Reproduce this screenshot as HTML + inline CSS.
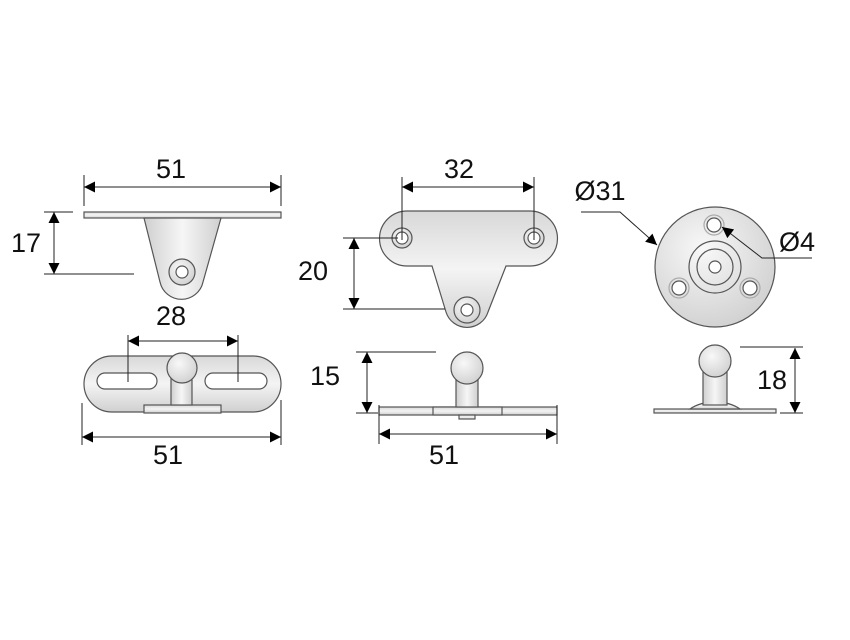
<!DOCTYPE html>
<html><head><meta charset="utf-8"><style>
html,body{margin:0;padding:0;background:#fff;}
svg{display:block;}
text{font-family:"Liberation Sans",Arial,sans-serif;font-size:27px;fill:#111;text-anchor:middle;}
</style></head><body>
<svg width="850" height="640" viewBox="0 0 850 640" xmlns="http://www.w3.org/2000/svg">
<defs>
<linearGradient id="g" x1="0" y1="0" x2="0" y2="1"><stop offset="0" stop-color="#d8d8d8"/><stop offset="0.5" stop-color="#f4f4f4"/><stop offset="1" stop-color="#d0d0d0"/></linearGradient>
<linearGradient id="gh" x1="0" y1="0" x2="1" y2="0"><stop offset="0" stop-color="#cfcfcf"/><stop offset="0.5" stop-color="#f6f6f6"/><stop offset="1" stop-color="#cfcfcf"/></linearGradient>
<radialGradient id="gr" cx="0.4" cy="0.35" r="0.7"><stop offset="0" stop-color="#f8f8f8"/><stop offset="1" stop-color="#d0d0d0"/></radialGradient>
<marker id="a" viewBox="0 0 10 10" refX="10" refY="5" markerWidth="22" markerHeight="11" markerUnits="userSpaceOnUse" orient="auto-start-reverse"><path d="M0,0L10,5L0,10z" fill="#000"/></marker>
</defs>
<g stroke="#555" stroke-width="1.2" fill="url(#g)">
<rect x="84" y="212" width="197" height="6"/>
<path d="M144,218 L221,218 L203,282 A22,22 0 0 1 160,282 Z" fill="url(#gh)"/>
<circle cx="182" cy="272" r="13" fill="url(#gr)"/><circle cx="182" cy="272" r="6" fill="#fff"/>
<rect x="84" y="356" width="197" height="56" rx="28" fill="url(#g)"/>
<rect x="97" y="373" width="60" height="16" rx="8" fill="#fff"/>
<rect x="205" y="373" width="62" height="16" rx="8" fill="#fff"/>
<rect x="144" y="405" width="77" height="8" fill="url(#g)"/>
<rect x="171" y="375" width="21" height="30" fill="url(#gh)"/>
<circle cx="182" cy="368" r="15" fill="url(#gr)"/>
<path d="M407,211 L530,211 A27,27 0 0 1 530,266 L506,266 L488,312 A22,22 0 0 1 446,312 L432,266 L407,266 A27,27 0 0 1 407,211 Z" fill="url(#g)"/>
<circle cx="402" cy="238" r="10" fill="url(#gr)"/><circle cx="402" cy="238" r="6" fill="#fff"/>
<circle cx="534" cy="238" r="10" fill="url(#gr)"/><circle cx="534" cy="238" r="6" fill="#fff"/>
<circle cx="467" cy="310" r="13" fill="url(#gr)"/><circle cx="467" cy="310" r="6" fill="#fff"/>
<rect x="379" y="407" width="178" height="8"/>
<rect x="433" y="407" width="69" height="8"/>
<rect x="459" y="415" width="16" height="4"/>
<rect x="456" y="377" width="22" height="30" fill="url(#gh)"/>
<circle cx="467" cy="368" r="16" fill="url(#gr)"/>
<circle cx="715" cy="267" r="60" fill="url(#gr)"/>
<circle cx="715" cy="267" r="26" fill="none"/><circle cx="715" cy="267" r="18" fill="none"/><circle cx="715" cy="267" r="6" fill="#fff"/>
<circle cx="714" cy="225" r="10" fill="none" stroke="#aaa"/><circle cx="714" cy="225" r="7" fill="#fff"/>
<circle cx="679" cy="288" r="10" fill="none" stroke="#aaa"/><circle cx="679" cy="288" r="7" fill="#fff"/>
<circle cx="750" cy="288" r="10" fill="none" stroke="#aaa"/><circle cx="750" cy="288" r="7" fill="#fff"/>
<rect x="654" y="409" width="122" height="4"/>
<path d="M690,409 Q700,402 715,402 Q730,402 740,409 Z"/>
<rect x="703" y="372" width="24" height="33" fill="url(#gh)"/>
<circle cx="715" cy="361" r="16" fill="url(#gr)"/>
</g>
<g stroke="#222" stroke-width="1" fill="none">
<line x1="84" y1="175" x2="84" y2="206"/><line x1="281" y1="175" x2="281" y2="206"/>
<line x1="84" y1="187" x2="281" y2="187" marker-start="url(#a)" marker-end="url(#a)"/>
<line x1="44" y1="212" x2="73" y2="212"/><line x1="44" y1="274" x2="134" y2="274"/>
<line x1="54" y1="212" x2="54" y2="274" marker-start="url(#a)" marker-end="url(#a)"/>
<line x1="128" y1="335" x2="128" y2="382"/><line x1="238" y1="335" x2="238" y2="382"/>
<line x1="128" y1="341" x2="238" y2="341" marker-start="url(#a)" marker-end="url(#a)"/>
<line x1="82" y1="403" x2="82" y2="445"/><line x1="281" y1="400" x2="281" y2="445"/>
<line x1="82" y1="437" x2="281" y2="437" marker-start="url(#a)" marker-end="url(#a)"/>
<line x1="402" y1="177" x2="402" y2="240"/><line x1="534" y1="177" x2="534" y2="240"/>
<line x1="402" y1="187" x2="534" y2="187" marker-start="url(#a)" marker-end="url(#a)"/>
<line x1="343" y1="238" x2="398" y2="238"/><line x1="343" y1="309" x2="445" y2="309"/>
<line x1="354" y1="238" x2="354" y2="309" marker-start="url(#a)" marker-end="url(#a)"/>
<line x1="356" y1="352" x2="436" y2="352"/><line x1="356" y1="413" x2="378" y2="413"/>
<line x1="367" y1="352" x2="367" y2="413" marker-start="url(#a)" marker-end="url(#a)"/>
<line x1="379" y1="405" x2="379" y2="444"/><line x1="557" y1="405" x2="557" y2="444"/>
<line x1="379" y1="434" x2="557" y2="434" marker-start="url(#a)" marker-end="url(#a)"/>
<polyline points="581,212 620,212 657,245" marker-end="url(#a)"/>
<polyline points="812,258 762,258 722,227" marker-end="url(#a)"/>
<line x1="740" y1="347" x2="803" y2="347"/><line x1="780" y1="413" x2="803" y2="413"/>
<line x1="795" y1="348" x2="795" y2="413" marker-start="url(#a)" marker-end="url(#a)"/>
</g>
<text x="171" y="178">51</text>
<text x="26" y="252">17</text>
<text x="171" y="325">28</text>
<text x="168" y="464">51</text>
<text x="459" y="178">32</text>
<text x="313" y="280">20</text>
<text x="325" y="385">15</text>
<text x="444" y="464">51</text>
<text x="600" y="200">Ø31</text>
<text x="797" y="251">Ø4</text>
<text x="772" y="389">18</text>
</svg>
</body></html>
